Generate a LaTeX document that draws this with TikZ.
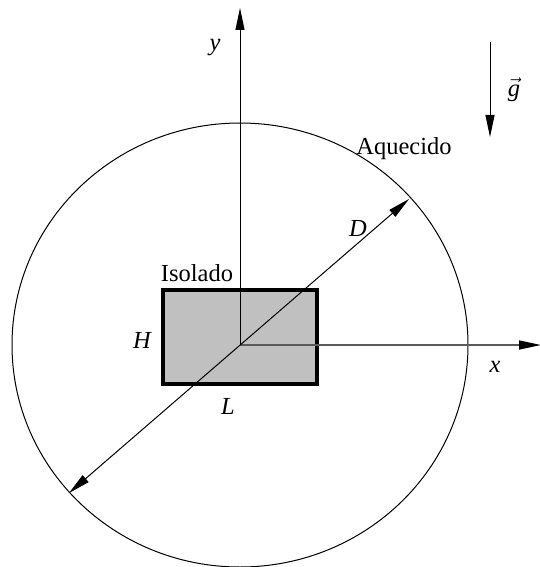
\documentclass[tikz,border=0pt]{standalone}
\usepackage{fontspec}
\setmainfont{Liberation Serif}
\usetikzlibrary{arrows.meta}
\begin{document}
\begin{tikzpicture}[x=1pt,y=-1pt,
  lbl/.style={font=\fontsize{24.5}{29}\selectfont, inner sep=0pt},
  ilbl/.style={font=\fontsize{24.5}{29}\selectfont\itshape, inner sep=0pt},
  tip/.style={-{Triangle[length=22pt,width=9pt,color=black,fill=black]}},
  thinline/.style={line width=1pt}]
\useasboundingbox (0,0) rectangle (540,567);
\coordinate (O) at (240,345);
% insulated body
\node[draw, line width=3.5pt, fill={rgb,255:red,192;green,192;blue,192}, minimum width=154pt, minimum height=94pt, inner sep=0pt] (rect) at (240,337) {};
% heated enclosure
\draw[thinline] (O) ellipse [x radius=228, y radius=222];
% axes
\coordinate (ytop) at (240,8);
\coordinate (xend) at (541,345);
\draw[thinline, tip] (O) -- (ytop);
\draw[line width=1.5pt, color={rgb,255:red,90;green,90;blue,90}, tip] (O) -- (xend);
% diameter
\coordinate (d1) at (409,199);
\coordinate (d2) at (69,493);
\draw[thinline, {Triangle[length=22pt,width=9pt]}-{Triangle[length=22pt,width=9pt]}] (d2) -- (d1);
% gravity
\coordinate (g1) at (490,42);
\coordinate (g2) at (490,137);
\draw[thinline, tip] (g1) -- (g2);
% labels
\node[ilbl] (ly) at (215,48) {y};
\node[ilbl] (lg) at (514,90) {$\vec{\mbox{\itshape g}}$};
\node[lbl] (laq) at (404,149) {Aquecido};
\node[lbl] (liso) at (197,273) {Isolado};
\node[ilbl] (lH) at (142,340) {H};
\node[ilbl] (lL) at (228,406) {L};
\node[ilbl] (lD) at (358,229) {D};
\node[ilbl] (lx) at (495,367) {x};
\end{tikzpicture}
\end{document}
